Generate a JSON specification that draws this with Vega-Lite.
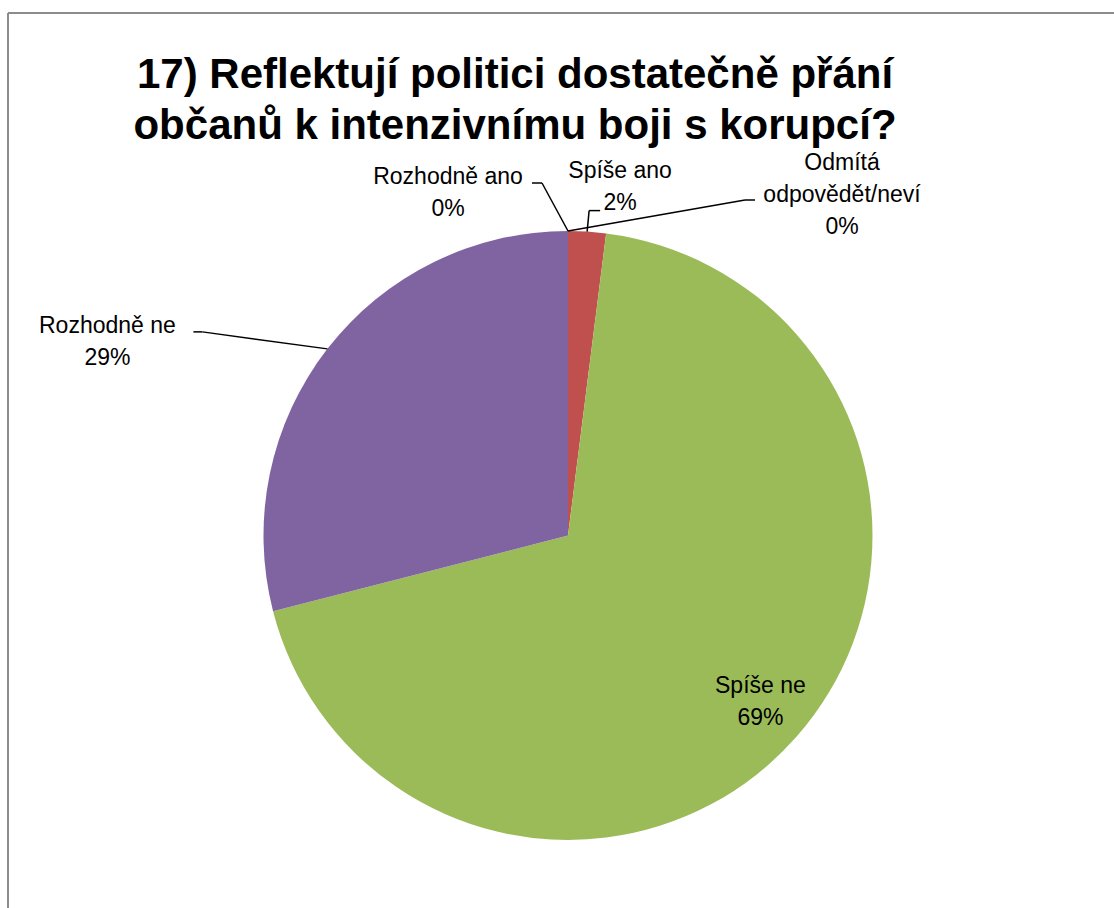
{
  "$schema": "https://vega.github.io/schema/vega-lite/v6.json",
  "width": 1106,
  "height": 895,
  "autosize": {"type": "none"},
  "padding": {"left": 8, "top": 13, "right": 0, "bottom": 0},
  "background": "white",
  "config": {
    "view": {"stroke": null},
    "font": "Liberation Sans"
  },
  "title": {
    "text": ["17) Reflektují politici dostatečně přání", "občanů k intenzivnímu boji s korupcí?"],
    "font": "Liberation Sans",
    "fontSize": 42,
    "fontWeight": "bold",
    "color": "#000000",
    "anchor": "middle",
    "frame": "group",
    "dx": -46,
    "offset": -169,
    "baseline": "alphabetic",
    "lineHeight": 51
  },
  "data": {
    "values": [
      {"poradi": 0, "nazev": "Rozhodně ano", "podil": 0},
      {"poradi": 1, "nazev": "Spíše ano", "podil": 2},
      {"poradi": 2, "nazev": "Spíše ne", "podil": 69},
      {"poradi": 3, "nazev": "Rozhodně ne", "podil": 29},
      {"poradi": 4, "nazev": "Odmítá\nodpovědět/neví", "podil": 0}
    ]
  },
  "layer": [
    {
      "mark": {"type": "rule", "color": "#8c8c8c", "strokeWidth": 2},
      "encoding": {
        "x": {"datum": -560, "type": "quantitative", "scale": {"domain": [-560, 546], "nice": false, "zero": false}, "axis": null}
      }
    },
    {
      "mark": {"type": "rule", "color": "#8c8c8c", "strokeWidth": 2},
      "encoding": {
        "y": {"datum": 522.5, "type": "quantitative", "scale": {"domain": [-372.5, 522.5], "nice": false, "zero": false}, "axis": null}
      }
    },
    {
      "mark": {"type": "arc", "outerRadius": 304.5},
      "encoding": {
        "theta": {"field": "podil", "type": "quantitative", "stack": true},
        "order": {"field": "poradi", "type": "quantitative", "sort": "ascending"},
        "color": {
          "field": "nazev",
          "type": "nominal",
          "legend": null,
          "scale": {
            "domain": ["Rozhodně ano", "Spíše ano", "Spíše ne", "Rozhodně ne", "Odmítá\nodpovědět/neví"],
            "range": ["#4F81BD", "#C0504D", "#9BBB59", "#8064A2", "#4BACC6"]
          }
        },
        "x": {"datum": 0, "type": "quantitative"},
        "y": {"datum": 0, "type": "quantitative"}
      }
    },
    {
      "transform": [
        {"stack": "podil", "groupby": [], "sort": [{"field": "poradi", "order": "ascending"}], "as": ["s0", "s1"]},
        {"calculate": "(datum.s0 + datum.s1) / 200 * 2 * PI", "as": "uhel"},
        {"calculate": "304.5 * sin(datum.uhel)", "as": "rx"},
        {"calculate": "304.5 * cos(datum.uhel)", "as": "ry"},
        {"calculate": "datum.rx + [-26, 2, 0, -125, 177][datum.poradi]", "as": "ex"},
        {"calculate": "datum.ry + [48, 21, 0, 17, 31][datum.poradi]", "as": "ey"},
        {"calculate": "datum.rx + [-36, 13, 0, -134, 187][datum.poradi]", "as": "tx"},
        {"calculate": "datum.rx + [-120, 33, -36, -220, 274][datum.poradi]", "as": "lx"},
        {"calculate": "datum.ry + [47, 54, 44, 16, 61][datum.poradi]", "as": "ly"},
        {"calculate": "datum.nazev + '\\n' + datum.podil + '%'", "as": "popisek"}
      ],
      "layer": [
        {
          "transform": [{"filter": "datum.poradi != 2"}],
          "mark": {"type": "rule", "color": "#000000", "strokeWidth": 1.5},
          "encoding": {
            "x": {"field": "rx", "type": "quantitative"},
            "y": {"field": "ry", "type": "quantitative"},
            "x2": {"field": "ex"},
            "y2": {"field": "ey"}
          }
        },
        {
          "transform": [{"filter": "datum.poradi != 2"}],
          "mark": {"type": "rule", "color": "#000000", "strokeWidth": 1.5},
          "encoding": {
            "x": {"field": "ex", "type": "quantitative"},
            "y": {"field": "ey", "type": "quantitative"},
            "x2": {"field": "tx"},
            "y2": {"field": "ey"}
          }
        },
        {
          "mark": {"type": "text", "align": "center", "baseline": "alphabetic", "fontSize": 23, "lineHeight": 32, "lineBreak": "\n", "color": "#000000", "font": "Liberation Sans"},
          "encoding": {
            "x": {"field": "lx", "type": "quantitative"},
            "y": {"field": "ly", "type": "quantitative"},
            "text": {"field": "popisek", "type": "nominal"}
          }
        }
      ]
    }
  ]
}
